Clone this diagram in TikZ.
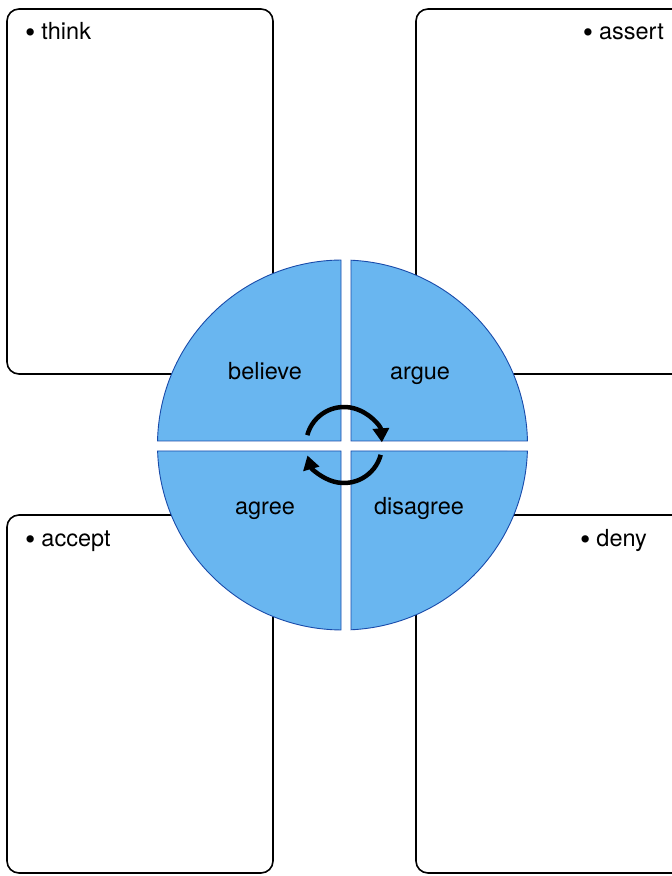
\documentclass[tikz,border=0pt]{standalone}
\usepackage{fontspec}
\setmainfont{TeX Gyre Heros}
\usetikzlibrary{arrows.meta}
\definecolor{qfill}{RGB}{105,182,240}
\definecolor{qline}{RGB}{25,75,170}
\newcommand{\bul}{\raisebox{-2.2pt}{\scalebox{1.25}{•}}\hspace{6pt}}
\begin{document}
\begin{tikzpicture}[x=1pt,y=1pt,
  card/.style={draw=black,line width=1.6pt,rounded corners=12pt},
  quad/.style={fill=qfill,draw=qline,line width=0.9pt,line join=miter},
  lbl/.style={font=\fontsize{23.5}{27}\selectfont,inner sep=0pt,anchor=base},
  cyc/.style={line width=4.5pt,-{Triangle[length=14pt,width=16pt]}}]
\useasboundingbox (0,0) rectangle (672,876);
\clip (0,0) rectangle (672,876);
% cards
\draw[card] (7,867) rectangle (273,502);
\draw[card] (416,867) rectangle (700,502);
\draw[card] (7,361) rectangle (273,3);
\draw[card] (416,361) rectangle (700,3);
% card labels
\node[lbl,anchor=base west] (think) at (25,836) {\bul think};
\node[lbl,anchor=base east] (assert) at (664,836) {\bul assert};
\node[lbl,anchor=base west] (accept) at (25,329) {\bul accept};
\node[lbl,anchor=base west] (deny) at (580,329) {\bul deny};
% quadrants
\draw[quad] (341,435) -- (341,615.99) arc[start angle=90.46,end angle=178.76,radius=185pt] -- cycle;
\draw[quad] (351,435) -- (527.46,435) arc[start angle=1.24,end angle=87.37,radius=185pt] -- cycle;
\draw[quad] (341,425) -- (157.6,425) arc[start angle=181.86,end angle=269.54,radius=185pt] -- cycle;
\draw[quad] (351,425) -- (351,246.2) arc[start angle=272.63,end angle=358.14,radius=185pt] -- cycle;
% quadrant labels
\node[lbl] (believe) at (265,496) {believe};
\node[lbl] (argue) at (420,496) {argue};
\node[lbl] (agree) at (265,361) {agree};
\node[lbl] (disagree) at (419,361) {disagree};
% cycle arrows
\coordinate (cc) at (344,431);
\draw[cyc] ([shift={(165:38)}]cc) arc[start angle=165,end angle=4,radius=38pt];
\draw[cyc] ([shift={(-15:38)}]cc) arc[start angle=-15,end angle=-164,radius=38pt];
\end{tikzpicture}
\end{document}
